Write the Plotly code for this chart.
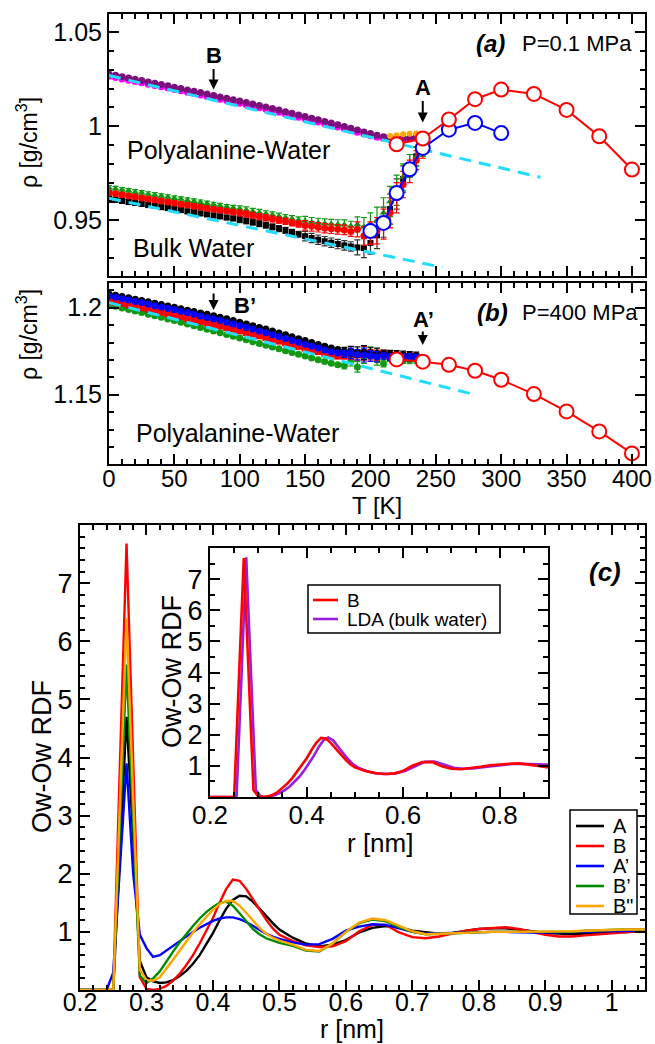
import plotly.graph_objects as go

W, H = 655, 1044
FONT = "Liberation Sans, Arial, Helvetica, sans-serif"


def px(x):
    return x / W


def py(y):
    return 1 - y / H


# ---------------- panel (a): P = 0.1 MPa ----------------
T_POLY = list(range(0, 240, 5))
RHO_POLY_PURPLE = [1.0278, 1.0271, 1.0264, 1.0257, 1.0250, 1.0243, 1.0236, 1.0229, 1.0222, 1.0215,
                   1.0208, 1.0201, 1.0193, 1.0186, 1.0179, 1.0171, 1.0164, 1.0156, 1.0149, 1.0141,
                   1.0134, 1.0126, 1.0118, 1.0110, 1.0102, 1.0094, 1.0086, 1.0077, 1.0069, 1.0060,
                   1.0052, 1.0043, 1.0035, 1.0026, 1.0017, 1.0008, 0.9999, 0.9990, 0.9980, 0.9970,
                   0.9961, 0.9952, 0.9945, 0.9940, 0.9937, 0.9936, 0.9937, 0.9940]
RHO_POLY_MAGENTA = [1.0266, 1.0259, 1.0252, 1.0245, 1.0238, 1.0231, 1.0224, 1.0217, 1.0210, 1.0203,
                    1.0196, 1.0189, 1.0181, 1.0174, 1.0167, 1.0159, 1.0152, 1.0144, 1.0137, 1.0129,
                    1.0122, 1.0114, 1.0106, 1.0098, 1.0090, 1.0082, 1.0074, 1.0065, 1.0057, 1.0048,
                    1.0040, 1.0031, 1.0023, 1.0014, 1.0005, 0.9996, 0.9987, 0.9978, 0.9968, 0.9959,
                    0.9950, 0.9942, 0.9936, 0.9932, 0.9930, 0.9931, 0.9934, 0.9938]
T_POLY_ORANGE = [215, 220, 225, 230, 235]
RHO_POLY_ORANGE = [0.9948, 0.9952, 0.9957, 0.9960, 0.9962]

T_BULK = list(range(0, 245, 5))
RHO_BULK_GREEN = [0.9673, 0.9668, 0.9662, 0.9657, 0.9651, 0.9646, 0.9640, 0.9635, 0.9629, 0.9624,
                  0.9618, 0.9613, 0.9607, 0.9602, 0.9596, 0.9590, 0.9584, 0.9578, 0.9572, 0.9567,
                  0.9561, 0.9555, 0.9548, 0.9542, 0.9535, 0.9529, 0.9522, 0.9515, 0.9509, 0.9502,
                  0.9496, 0.9490, 0.9486, 0.9483, 0.9480, 0.9478, 0.9477, 0.9470, 0.9478, 0.9465,
                  0.9480, 0.9500, 0.9540, 0.9600, 0.9660, 0.9730, 0.9790, 0.9840, 0.9880]
RHO_BULK_RED = [0.9646, 0.9641, 0.9636, 0.9630, 0.9625, 0.9619, 0.9614, 0.9608, 0.9603, 0.9597,
                0.9592, 0.9586, 0.9581, 0.9575, 0.9570, 0.9564, 0.9559, 0.9554, 0.9549, 0.9544,
                0.9539, 0.9533, 0.9527, 0.9520, 0.9514, 0.9507, 0.9501, 0.9494, 0.9487, 0.9480,
                0.9473, 0.9468, 0.9463, 0.9458, 0.9455, 0.9452, 0.9449, 0.9440, 0.9452, 0.9418,
                0.9432, 0.9445, 0.9480, 0.9540, 0.9620, 0.9690, 0.9760, 0.9820, 0.9870]
RHO_BULK_BLACK = [0.9614, 0.9609, 0.9603, 0.9598, 0.9592, 0.9587, 0.9581, 0.9576, 0.9570, 0.9565,
                  0.9559, 0.9554, 0.9548, 0.9543, 0.9537, 0.9532, 0.9526, 0.9521, 0.9515, 0.9510,
                  0.9504, 0.9497, 0.9490, 0.9482, 0.9474, 0.9465, 0.9456, 0.9446, 0.9436, 0.9426,
                  0.9416, 0.9406, 0.9397, 0.9389, 0.9381, 0.9374, 0.9367, 0.9361, 0.9356, 0.9352,
                  0.9380, 0.9420, 0.9490, 0.9560, 0.9640, 0.9720, 0.9790, 0.9840, 0.9880]
ERR_BULK = [0.0012] * 20 + [0.0016] * 10 + [0.0025] * 8 + \
           [0.004, 0.005, 0.006, 0.007, 0.008, 0.008, 0.008, 0.007, 0.006, 0.005, 0.004]
ERR_POLY = [0.0008] * 48

# linear fits (dashed)
T_FIT_POLY_A = [0, 330]
RHO_FIT_POLY_A = [1.0270, 0.9729]
T_FIT_BULK_A = [0, 255]
RHO_FIT_BULK_A = [0.9617, 0.9250]

# 0.1 MPa heating runs (open circles)
T_RED_A = [220, 240, 260, 280, 300, 325, 350, 375, 400]
RHO_RED_A = [0.9904, 0.9935, 1.0036, 1.0144, 1.0195, 1.0172, 1.0087, 0.9947, 0.9770]
T_BLUE_A = [200, 210, 220, 230, 240, 260, 280, 300]
RHO_BLUE_A = [0.9443, 0.9486, 0.9645, 0.9771, 0.9885, 0.9982, 1.0018, 0.9964]

# ---------------- panel (b): P = 400 MPa ----------------
T_400 = list(range(0, 240, 5))
RHO_400_BLACK = [1.2079, 1.2072, 1.2064, 1.2057, 1.2049, 1.2042, 1.2034, 1.2026, 1.2018, 1.2010,
                 1.2002, 1.1994, 1.1986, 1.1978, 1.1970, 1.1962, 1.1954, 1.1945, 1.1936, 1.1927,
                 1.1917, 1.1907, 1.1897, 1.1887, 1.1877, 1.1866, 1.1855, 1.1844, 1.1833, 1.1822,
                 1.1811, 1.1800, 1.1789, 1.1778, 1.1768, 1.1760, 1.1752, 1.1748, 1.1745, 1.1742,
                 1.1740, 1.1738, 1.1737, 1.1735, 1.1733, 1.1730, 1.1728, 1.1725]
RHO_400_BLUE = [1.2067, 1.2060, 1.2052, 1.2044, 1.2036, 1.2028, 1.2020, 1.2012, 1.2004, 1.1996,
                1.1988, 1.1979, 1.1971, 1.1962, 1.1953, 1.1944, 1.1935, 1.1926, 1.1917, 1.1907,
                1.1897, 1.1887, 1.1877, 1.1866, 1.1856, 1.1845, 1.1834, 1.1823, 1.1812, 1.1801,
                1.1790, 1.1779, 1.1768, 1.1757, 1.1747, 1.1740, 1.1735, 1.1738, 1.1730, 1.1728,
                1.1722, 1.1718, 1.1724, 1.1716, 1.1720, 1.1714, 1.1716, 1.1712]
RHO_400_RED = [1.2040, 1.2032, 1.2024, 1.2016, 1.2008, 1.2000, 1.1992, 1.1983, 1.1975, 1.1966,
               1.1958, 1.1949, 1.1940, 1.1931, 1.1922, 1.1913, 1.1904, 1.1895, 1.1886, 1.1876,
               1.1867, 1.1857, 1.1848, 1.1838, 1.1828, 1.1818, 1.1808, 1.1798, 1.1788, 1.1778,
               1.1768, 1.1758, 1.1748, 1.1738, 1.1729, 1.1722, 1.1725, 1.1735, 1.1728, 1.1738,
               1.1730, 1.1727, 1.1735, 1.1722, 1.1725, 1.1718, 1.1720, 1.1715]
RHO_400_GREEN = [1.2017, 1.2008, 1.1999, 1.1990, 1.1981, 1.1972, 1.1963, 1.1954, 1.1945, 1.1935,
                 1.1926, 1.1916, 1.1906, 1.1896, 1.1886, 1.1876, 1.1866, 1.1856, 1.1846, 1.1836,
                 1.1826, 1.1816, 1.1805, 1.1795, 1.1785, 1.1774, 1.1764, 1.1753, 1.1743, 1.1732,
                 1.1722, 1.1711, 1.1701, 1.1691, 1.1681, 1.1672, 1.1668, 1.1695, 1.1660, 1.1720,
                 1.1745, 1.1700, 1.1680, 1.1712, 1.1705, 1.1700, 1.1698, 1.1702]
ERR_400 = [0.0007] * 36 + [0.002, 0.003, 0.003, 0.004, 0.003, 0.003,
                           0.002, 0.002, 0.002, 0.002, 0.002, 0.002]

T_FIT_400 = [0, 278]
RHO_FIT_400 = [1.2029, 1.1504]

T_RED_B = [220, 240, 260, 280, 300, 325, 350, 375, 400]
RHO_RED_B = [1.1703, 1.1690, 1.1672, 1.1638, 1.1586, 1.1504, 1.1404, 1.1289, 1.1163]

# ---------------- panel (c): Ow-Ow radial distribution functions ----------------
R_MAIN = [0.20, 0.21, 0.22, 0.23, 0.24, 0.25, 0.26, 0.27, 0.28, 0.29, 0.30, 0.31, 0.32, 0.33,
          0.34, 0.35, 0.36, 0.37, 0.38, 0.39, 0.40, 0.41, 0.42, 0.43, 0.44, 0.45, 0.46, 0.47,
          0.48, 0.49, 0.50, 0.52, 0.54, 0.56, 0.58, 0.60, 0.62, 0.64, 0.66, 0.68, 0.70, 0.72,
          0.74, 0.76, 0.78, 0.80, 0.82, 0.84, 0.86, 0.88, 0.90, 0.92, 0.94, 0.96, 0.98, 1.00,
          1.02, 1.04, 1.05]
G_A = [0, 0, 0, 0, 0, 0.0, 2.35, 4.70, 2.60, 0.50, 0.22, 0.15, 0.12, 0.13, 0.17, 0.24, 0.33,
       0.45, 0.60, 0.78, 0.98, 1.20, 1.40, 1.55, 1.62, 1.61, 1.52, 1.40, 1.27, 1.15, 1.04,
       0.90, 0.80, 0.75, 0.78, 0.86, 0.99, 1.07, 1.10, 1.08, 1.02, 0.99, 0.97, 0.98, 1.02,
       1.05, 1.06, 1.06, 1.04, 1.01, 0.98, 0.97, 0.96, 0.97, 0.98, 0.99, 1.00, 1.01, 1.01]
G_B = [0, 0, 0, 0, 0, 0.0, 3.85, 7.68, 3.95, 0.22, 0.02, 0.0, 0.02, 0.07, 0.16, 0.28, 0.43,
       0.60, 0.80, 1.01, 1.24, 1.50, 1.74, 1.90, 1.88, 1.74, 1.56, 1.38, 1.21, 1.06, 0.95,
       0.84, 0.77, 0.74, 0.75, 0.84, 1.01, 1.12, 1.12, 0.99, 0.91, 0.89, 0.92, 0.97, 1.02,
       1.05, 1.07, 1.08, 1.05, 1.00, 0.95, 0.92, 0.92, 0.94, 0.96, 0.98, 1.00, 1.01, 1.01]
G_A1 = [0, 0, 0, 0, 0.0, 0.30, 2.10, 3.90, 2.00, 0.95, 0.72, 0.57, 0.60, 0.68, 0.76, 0.85, 0.93,
        1.00, 1.07, 1.13, 1.19, 1.23, 1.25, 1.25, 1.22, 1.17, 1.10, 1.03, 0.97, 0.92, 0.88,
        0.82, 0.78, 0.79, 0.88, 1.02, 1.09, 1.13, 1.12, 1.06, 1.00, 0.97, 0.97, 0.98, 0.99,
        1.00, 1.00, 1.00, 0.99, 0.99, 0.99, 0.99, 1.00, 1.00, 1.01, 1.01, 1.02, 1.02, 1.02]
G_B1 = [0, 0, 0, 0, 0, 0.0, 2.80, 5.60, 2.90, 0.25, 0.12, 0.20, 0.32, 0.50, 0.66, 0.82, 0.97,
        1.10, 1.23, 1.34, 1.43, 1.50, 1.52, 1.45, 1.32, 1.18, 1.05, 0.96, 0.89, 0.85, 0.81,
        0.76, 0.68, 0.66, 0.80, 1.00, 1.15, 1.21, 1.18, 1.08, 1.00, 0.96, 0.97, 0.98, 0.98,
        0.99, 1.00, 1.00, 1.00, 1.00, 1.00, 0.99, 1.00, 1.02, 1.03, 1.04, 1.04, 1.04, 1.04]
G_B2 = [0, 0, 0, 0, 0, 0.0, 3.20, 6.40, 3.30, 0.35, 0.17, 0.16, 0.22, 0.36, 0.52, 0.68, 0.84,
        0.99, 1.13, 1.26, 1.38, 1.48, 1.53, 1.53, 1.45, 1.33, 1.20, 1.07, 0.97, 0.90, 0.85,
        0.78, 0.69, 0.67, 0.80, 1.00, 1.16, 1.23, 1.20, 1.10, 1.01, 0.96, 0.97, 0.98, 0.98,
        0.99, 1.00, 1.00, 1.00, 1.00, 1.00, 1.00, 1.01, 1.02, 1.03, 1.04, 1.04, 1.04, 1.04]

R_LDA = [0.200, 0.255, 0.265, 0.275, 0.285, 0.295, 0.305, 0.315, 0.325, 0.335, 0.345, 0.355,
         0.365, 0.375, 0.385, 0.395, 0.405, 0.415, 0.425, 0.435, 0.445, 0.455, 0.465, 0.475,
         0.485, 0.495, 0.505, 0.525, 0.545, 0.565, 0.585, 0.605, 0.625, 0.645, 0.665, 0.685,
         0.705, 0.725, 0.745, 0.765, 0.785, 0.805, 0.825, 0.845, 0.865, 0.885, 0.905]
G_LDA = [0, 0, 3.80, 7.70, 3.95, 0.22, 0.02, 0.0, 0.02, 0.06, 0.13, 0.22, 0.34, 0.48, 0.65,
         0.85, 1.07, 1.32, 1.60, 1.82, 1.91, 1.82, 1.62, 1.42, 1.23, 1.07, 0.96,
         0.83, 0.76, 0.74, 0.76, 0.84, 0.99, 1.13, 1.14, 1.03, 0.94, 0.91, 0.92, 0.96, 1.00,
         1.04, 1.06, 1.07, 1.06, 1.05, 1.04]

RDF_LABELS = ["A", "B", "A’", "B’", "B\""]
RDF_COLORS = ["#000000", "#ff0000", "#0000ff", "#008b00", "#ffa500"]

CYAN = "#22dcff"
RED = "#ff0000"
BLUE = "#0000ff"
GREEN = "#119911"
PURPLE = "#7d0f7d"
MAGENTA = "#ff00ff"
ORANGE = "#ffa500"
VIOLET = "#9a1ee0"

fig = go.Figure()


def markers(x, y, color, symbol, xa, ya, err=None, size=6, ecolor=None):
    kw = {}
    if err is not None:
        kw["error_y"] = dict(type="data", array=err, color=ecolor or color,
                             thickness=1.2, width=3)
    fig.add_trace(go.Scatter(x=x, y=y, mode="markers", xaxis=xa, yaxis=ya,
                             marker=dict(color=color, symbol=symbol, size=size,
                                         line=dict(width=0)),
                             showlegend=False, **kw))


def open_line(x, y, color, xa, ya):
    fig.add_trace(go.Scatter(x=x, y=y, mode="lines+markers", xaxis=xa, yaxis=ya,
                             line=dict(color=color, width=2),
                             marker=dict(symbol="circle", size=14, color="white",
                                         line=dict(color=color, width=2)),
                             showlegend=False))


def dashed(x, y, xa, ya):
    fig.add_trace(go.Scatter(x=x, y=y, mode="lines", xaxis=xa, yaxis=ya,
                             line=dict(color=CYAN, width=3, dash="12px,8px"),
                             showlegend=False))


# panel (a)
markers(T_BULK, RHO_BULK_BLACK, "#000000", "square", "x", "y", ERR_BULK, 6, "#333333")
markers(T_BULK, RHO_BULK_GREEN, GREEN, "triangle-up", "x", "y", ERR_BULK, 7)
markers(T_BULK, RHO_BULK_RED, RED, "circle", "x", "y", ERR_BULK, 7)
markers(T_POLY, RHO_POLY_MAGENTA, MAGENTA, "circle", "x", "y", ERR_POLY, 7)
markers(T_POLY, RHO_POLY_PURPLE, PURPLE, "circle", "x", "y", ERR_POLY, 7)
markers(T_POLY_ORANGE, RHO_POLY_ORANGE, ORANGE, "circle", "x", "y", None, 6)
dashed(T_FIT_POLY_A, RHO_FIT_POLY_A, "x", "y")
dashed(T_FIT_BULK_A, RHO_FIT_BULK_A, "x", "y")
open_line(T_BLUE_A, RHO_BLUE_A, BLUE, "x", "y")
open_line(T_RED_A, RHO_RED_A, RED, "x", "y")

# panel (b)
markers(T_400, RHO_400_GREEN, GREEN, "circle", "x2", "y2", ERR_400, 7)
markers(T_400, RHO_400_RED, RED, "square", "x2", "y2", ERR_400, 7)
markers(T_400, RHO_400_BLACK, "#000000", "circle", "x2", "y2", ERR_400, 7)
markers(T_400, RHO_400_BLUE, BLUE, "circle", "x2", "y2", ERR_400, 7)
dashed(T_FIT_400, RHO_FIT_400, "x2", "y2")
open_line(T_RED_B, RHO_RED_B, RED, "x2", "y2")

# panel (c) main
for g, name, col in zip([G_A, G_B, G_A1, G_B1, G_B2], RDF_LABELS, RDF_COLORS):
    fig.add_trace(go.Scatter(x=R_MAIN, y=g, mode="lines", name=name, xaxis="x3", yaxis="y3",
                             line=dict(color=col, width=2.4), showlegend=False))

# panel (c) inset
fig.add_trace(go.Scatter(x=R_LDA, y=G_LDA, mode="lines", name="LDA (bulk water)",
                         xaxis="x4", yaxis="y4", line=dict(color=VIOLET, width=2.6),
                         showlegend=False))
fig.add_trace(go.Scatter(x=R_MAIN, y=G_B, mode="lines", name="B",
                         xaxis="x4", yaxis="y4", line=dict(color=RED, width=2.6),
                         showlegend=False))

TICKFONT = dict(family=FONT, size=25, color="black")


def axis(domain, rng, anchor, minor_dtick, tickvals=None, ticktext=None, dtick=None,
         labels=True, font=TICKFONT, ticklen=10, minorlen=5, standoff=0):
    d = dict(domain=domain, range=rng, anchor=anchor, showline=True, linecolor="black",
             linewidth=2, mirror="allticks", ticks="inside", ticklen=ticklen, tickwidth=1.5,
             tickcolor="black", showgrid=False, zeroline=False, showticklabels=labels,
             tickfont=font, ticklabelstandoff=standoff, automargin=False,
             minor=dict(dtick=minor_dtick, ticks="inside", ticklen=minorlen, tickwidth=1.5,
                        tickcolor="black", showgrid=False))
    if tickvals is not None:
        d["tickmode"] = "array"
        d["tickvals"] = tickvals
        d["ticktext"] = ticktext
    if dtick is not None:
        d["dtick"] = dtick
        d["tick0"] = 0
    return d


XA = [px(109), px(645)]
XC = [px(80), px(645)]

big = dict(family=FONT, size=27, color="black")
bigx = dict(family=FONT, size=26, color="black")

fig.update_layout(
    template="none", showlegend=False,
    width=W, height=H, margin=dict(l=0, r=0, t=0, b=0, autoexpand=False),
    paper_bgcolor="white", plot_bgcolor="white",
    font=dict(family=FONT, color="black"),
    xaxis=axis(XA, [0, 410], "y", 10, dtick=50, labels=False),
    yaxis=axis([py(276), py(14)], [0.9204, 1.0597], "x", 0.01,
               tickvals=[0.95, 1.0, 1.05], ticktext=["0.95", "1", "1.05"]),
    xaxis2=axis(XA, [0, 410], "y2", 10, dtick=50, standoff=-8,
                font=dict(family=FONT, size=24, color="black")),
    yaxis2=axis([py(464), py(283)], [1.1102, 1.2142], "x2", 0.01,
                tickvals=[1.15, 1.2], ticktext=["1.15", "1.2"]),
    xaxis3=axis(XC, [0.2, 1.05], "y3", 0.02,
                tickvals=[0.2, 0.3, 0.4, 0.5, 0.6, 0.7, 0.8, 0.9, 1.0],
                ticktext=["0.2", "0.3", "0.4", "0.5", "0.6", "0.7", "0.8", "0.9", "1"],
                font=dict(family=FONT, size=25, color="black"), standoff=-11),
    yaxis3=axis([py(990), py(525)], [0, 8], "x3", 0.2,
                tickvals=[1, 2, 3, 4, 5, 6, 7], ticktext=[str(i) for i in range(1, 8)],
                font=big),
    xaxis4=axis([px(210), px(548)], [0.2, 0.9], "y4", 0.05,
                tickvals=[0.2, 0.4, 0.6, 0.8], ticktext=["0.2", "0.4", "0.6", "0.8"],
                font=bigx, standoff=-6),
    yaxis4=axis([py(797), py(548)], [0, 8], "x4", 0.5,
                tickvals=[1, 2, 3, 4, 5, 6, 7], ticktext=[str(i) for i in range(1, 8)],
                font=big),
)

ann = []
shapes = []


def text(x, y, s, size=24, bold=False, italic=False, angle=0, xanchor="center"):
    if italic:
        s = "<i>" + s + "</i>"
    if bold:
        s = "<b>" + s + "</b>"
    ann.append(dict(x=px(x), y=py(y), xref="paper", yref="paper", text=s, showarrow=False,
                    xanchor=xanchor, yanchor="middle", textangle=angle,
                    font=dict(family=FONT, size=size, color="black")))


def arrow(xa, ya, x, y_tail, y_head):
    ann.append(dict(x=x, y=y_head, ax=x, ay=y_tail, xref=xa, yref=ya, axref=xa, ayref=ya,
                    text="", showarrow=True, arrowhead=2, arrowsize=1, arrowwidth=2,
                    arrowcolor="black"))


def legend_box(x0, y0, x1, y1, entries, line_x0, line_x1, text_x, y_first, step, size):
    shapes.append(dict(type="rect", xref="paper", yref="paper", x0=px(x0), x1=px(x1),
                       y0=py(y1), y1=py(y0), line=dict(color="black", width=1.5),
                       fillcolor="white", layer="above"))
    for i, (label, color) in enumerate(entries):
        yy = y_first + i * step
        shapes.append(dict(type="line", xref="paper", yref="paper", x0=px(line_x0),
                           x1=px(line_x1), y0=py(yy), y1=py(yy),
                           line=dict(color=color, width=2.6), layer="above"))
        text(text_x, yy, label, size, xanchor="left")


# panel labels and annotations
text(490, 43, "(a)", 24, bold=True, italic=True)
text(577, 43, "P=0.1 MPa", 22)
text(228, 150, "Polyalanine-Water", 25)
text(193, 248, "Bulk Water", 25)
text(214, 55, "B", 22, bold=True)
text(423, 87, "A", 22, bold=True)
arrow("x", "y", 80, 1.0312, 1.0195)
arrow("x", "y", 240, 1.0142, 1.0020)

text(492, 312, "(b)", 24, bold=True, italic=True)
text(580, 312, "P=400 MPa", 22)
text(237, 433, "Polyalanine-Water", 25)
text(245, 305, "B’", 22, bold=True)
text(423, 320, "A’", 22, bold=True)
arrow("x2", "y2", 80, 1.2090, 1.1987)
arrow("x2", "y2", 240, 1.1872, 1.1786)

text(27, 143, "ρ [g/cm<sup>3</sup>]", 23, angle=-90)
text(27, 335, "ρ [g/cm<sup>3</sup>]", 23, angle=-90)
text(377, 505, "T [K]", 24)

text(605, 572, "(c)", 26, bold=True, italic=True)
text(42, 757, "Ow-Ow RDF", 27, angle=-90)
text(172, 672, "Ow-Ow RDF", 27, angle=-90)
text(380, 843, "r [nm]", 26)
text(352, 1029, "r [nm]", 25)

legend_box(570, 810, 637, 914, list(zip(RDF_LABELS, RDF_COLORS)),
           576, 604, 611, 826, 20, 20)
legend_box(308, 585, 500, 633, [("B", RED), ("LDA (bulk water)", VIOLET)],
           313, 338, 345, 600, 19, 19)

fig.update_layout(annotations=ann, shapes=shapes)

fig.write_html("out.html")
